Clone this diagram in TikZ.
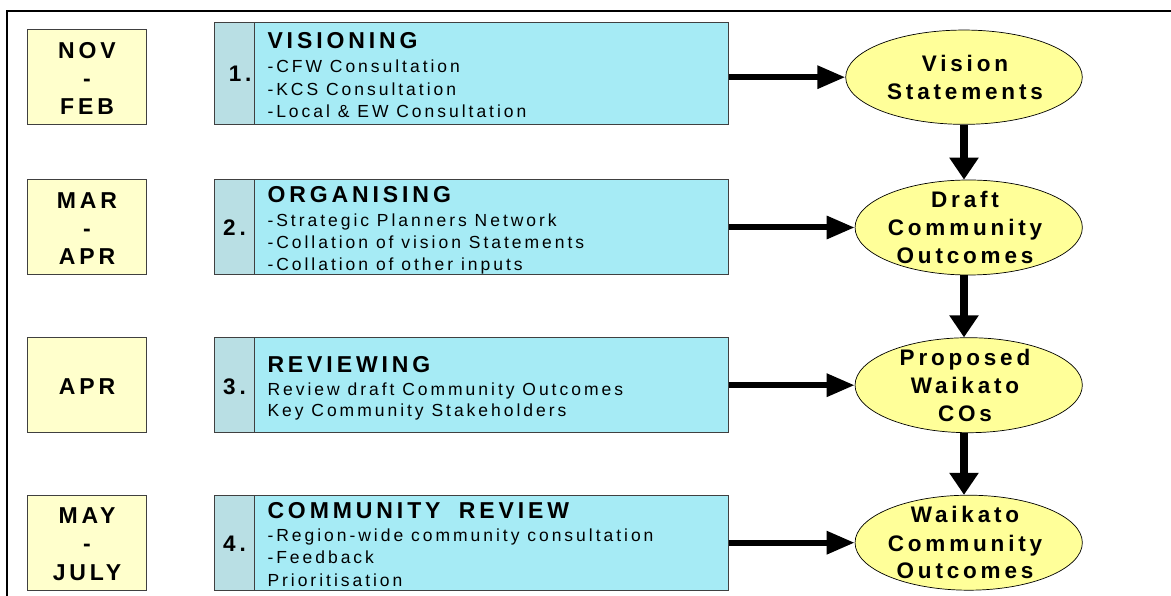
\documentclass[tikz,border=0pt]{standalone}
\usepackage{fontspec}
\setmainfont{Liberation Sans}
\newfontfamily\spc[LetterSpace=17]{Liberation Sans}
\usetikzlibrary{arrows.meta,shapes.geometric}
\definecolor{dateyel}{RGB}{255,255,204}
\definecolor{stepcyan}{RGB}{166,235,245}
\definecolor{numcol}{RGB}{185,223,228}
\definecolor{ellyel}{RGB}{255,255,153}
\definecolor{edgegrey}{RGB}{64,64,64}
\begin{document}
\begin{tikzpicture}[x=1pt,y=-1pt,
 datebox/.style={draw=edgegrey,line width=1pt,fill=dateyel,minimum width=118.6pt,minimum height=95pt,inner sep=0},
 numbox/.style={draw=edgegrey,line width=1pt,fill=numcol,minimum width=39.6pt,inner sep=0},
 mainbox/.style={draw=edgegrey,line width=1pt,fill=stepcyan,minimum width=474pt,inner sep=0},
 outcome/.style={ellipse,draw=black,line width=0.7pt,fill=ellyel,inner sep=0},
 datetxt/.style={anchor=base,inner sep=0,font=\spc\bfseries\fontsize{23}{28}\selectfont},
 numtxt/.style={anchor=base west,inner sep=0,font=\spc\bfseries\fontsize{22.5}{27}\selectfont},
 titletxt/.style={anchor=base west,inner sep=0,font=\spc\bfseries\fontsize{23}{27}\selectfont},
 bodytxt/.style={anchor=base west,inner sep=0,font=\spc\fontsize{17.5}{20}\selectfont},
 outtxt/.style={anchor=base,inner sep=0,font=\spc\bfseries\fontsize{22.5}{27}\selectfont},
 harrow/.style={line width=6pt,-{Triangle[length=28pt,width=22pt]}},
 varrow/.style={line width=7.5pt,-{Triangle[length=22pt,width=28pt]}},
]
\useasboundingbox (0,0) rectangle (1171,596);
\fill[white] (0,0) rectangle (1171,596);
% frame
\draw[line width=1.8pt] (6.7,597) -- (6.7,11) -- (1172,11);

% date boxes
\node[datebox] (d1) at (87,77) {};
\node[datebox] (d2) at (87,227.35) {};
\node[datebox] (d3) at (87,385.2) {};
\node[datebox] (d4) at (87,543) {};
\node[datetxt] (d1a) at (87,58.3) {NOV};
\node[datetxt] (d1b) at (87,86.65) {-};
\node[datetxt] (d1c) at (87,115) {FEB};
\node[datetxt] (d2a) at (87,208.3) {MAR};
\node[datetxt] (d2b) at (87,236.65) {-};
\node[datetxt] (d2c) at (87,265) {APR};
\node[datetxt] (d3a) at (87,394.3) {APR};
\node[datetxt] (d4a) at (87,523.3) {MAY};
\node[datetxt] (d4b) at (87,551.65) {-};
\node[datetxt] (d4c) at (87,580) {JULY};

% step boxes
\node[mainbox,minimum height=102pt] (s1) at (491.3,73.3) {};
\node[numbox,minimum height=102pt] (n1) at (234.5,73.3) {};
\node[mainbox,minimum height=95pt] (s2) at (491.3,227.35) {};
\node[numbox,minimum height=95pt] (n2) at (234.5,227.35) {};
\node[mainbox,minimum height=95pt] (s3) at (491.3,385.2) {};
\node[numbox,minimum height=95pt] (n3) at (234.5,385.2) {};
\node[mainbox,minimum height=95pt] (s4) at (491.3,543) {};
\node[numbox,minimum height=95pt] (n4) at (234.5,543) {};

\node[numtxt] (n1t) at (228.7,81.7) {1.};
\node[numtxt] (n2t) at (223,236) {2.};
\node[numtxt] (n3t) at (223,394.3) {3.};
\node[numtxt] (n4t) at (223,551.7) {4.};

\node[titletxt] (s1t) at (267.3,48.5) {VISIONING};
\node[bodytxt] (s1a) at (267.3,72.7) {-CFW Consultation};
\node[bodytxt] (s1b) at (267.3,95.3) {-KCS Consultation};
\node[bodytxt] (s1c) at (267.3,117.3) {-Local \& EW Consultation};

\node[titletxt] (s2t) at (267.3,202.7) {ORGANISING};
\node[bodytxt] (s2a) at (267.3,226.7) {-Strategic Planners Network};
\node[bodytxt] (s2b) at (267.3,248.7) {-Collation of vision Statements};
\node[bodytxt] (s2c) at (267.3,270.7) {-Collation of other inputs};

\node[titletxt] (s3t) at (267.3,372) {REVIEWING};
\node[bodytxt] (s3a) at (267.3,395) {Review draft Community Outcomes};
\node[bodytxt] (s3b) at (267.3,416.7) {Key Community Stakeholders};

\node[titletxt] (s4t) at (267.3,518.3) {COMMUNITY\hspace{8pt} REVIEW};
\node[bodytxt] (s4a) at (267.3,541.7) {-Region-wide community consultation};
\node[bodytxt] (s4b) at (267.3,563.7) {-Feedback};
\node[bodytxt] (s4c) at (267.3,586) {Prioritisation};

% outcomes
\node[outcome,minimum width=236.6pt,minimum height=94.3pt] (e1) at (964,77.2) {};
\node[outcome,minimum width=227.3pt,minimum height=95pt] (e2) at (968.7,227.5) {};
\node[outcome,minimum width=227.3pt,minimum height=95pt] (e3) at (968.7,385.2) {};
\node[outcome,minimum width=227.3pt,minimum height=95pt] (e4) at (968.7,542.7) {};

\node[outtxt] (e1a) at (965,71.7) {Vision};
\node[outtxt] (e1b) at (965,99.3) {Statements};
\node[outtxt] (e2a) at (965,207.3) {Draft};
\node[outtxt] (e2b) at (965,235.7) {Community};
\node[outtxt] (e2c) at (965,264) {Outcomes};
\node[outtxt] (e3a) at (965,366) {Proposed};
\node[outtxt] (e3b) at (965,393.7) {Waikato};
\node[outtxt] (e3c) at (965,421.3) {COs};
\node[outtxt] (e4a) at (965,522.7) {Waikato};
\node[outtxt] (e4b) at (965,551) {Community};
\node[outtxt] (e4c) at (965,578.7) {Outcomes};

% arrows
\draw[harrow] (s1.east |- e1.west) -- (e1.west);
\draw[harrow] (s2.east |- e2.west) -- (e2.west);
\draw[harrow] (s3.east |- e3.west) -- (e3.west);
\draw[harrow] (s4.east |- e4.west) -- (e4.west);
\draw[varrow] (e1.south) -- (e1.south |- e2.north);
\draw[varrow] (e1.south |- e2.south) -- (e1.south |- e3.north);
\draw[varrow] (e1.south |- e3.south) -- (e1.south |- e4.north);
\end{tikzpicture}
\end{document}
